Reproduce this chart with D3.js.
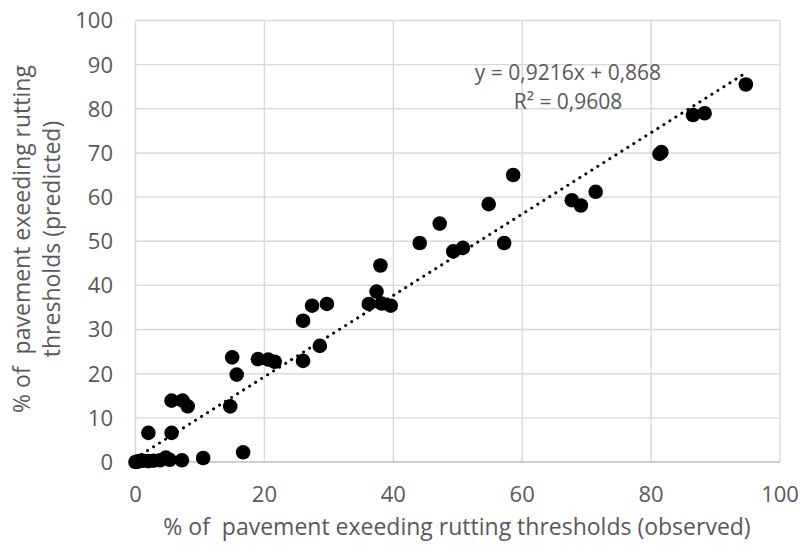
<!DOCTYPE html>
<html>
<head>
<meta charset="utf-8">
<script src="https://cdn.jsdelivr.net/npm/d3@7"></script>
<style>
  body { margin: 0; background: #fff; }
  text { font-family: 'Open Sans', 'Noto Sans', sans-serif; fill: #595959; white-space: pre; }
</style>
</head>
<body>
<div id="chart"></div>
<script>
// DATA
let observed = [94.7, 86.5, 88.3, 81.3, 81.6, 71.4, 67.7, 69.1, 58.6, 54.8,
  47.2, 44.1, 57.2, 49.3, 50.8, 38.0, 37.4, 36.2, 38.2, 39.6,
  29.7, 27.4, 26.0, 28.6, 26.0, 19.0, 20.6, 21.6, 15.0, 15.7,
  5.6, 7.3, 8.1, 14.7, 2.0, 5.6, 16.7, 10.5, 7.2, 5.3,
  4.7, 3.8, 2.8, 2.0, 1.2, 0.6, 0.3, 0.0]
let predicted = [85.5, 78.6, 79.0, 69.8, 70.2, 61.2, 59.3, 58.1, 65.0, 58.4,
  54.0, 49.6, 49.6, 47.7, 48.5, 44.5, 38.6, 35.8, 35.9, 35.4,
  35.8, 35.4, 32.0, 26.3, 22.9, 23.3, 23.2, 22.7, 23.7, 19.8,
  13.9, 13.9, 12.6, 12.6, 6.6, 6.6, 2.2, 0.9, 0.4, 0.5,
  1.0, 0.4, 0.3, 0.2, 0.3, 0.2, 0.1, 0.0]
let xTicks = [0, 20, 40, 60, 80, 100]
let yTicks = [0, 10, 20, 30, 40, 50, 60, 70, 80, 90, 100]
let trendSlope = 0.9216, trendIntercept = 0.868
let equationLines = ['y = 0,9216x + 0,868', 'R² = 0,9608']
let xTitle = '% of  pavement exeeding rutting thresholds (observed)'
let yTitleLines = ['% of  pavement exeeding rutting', 'thresholds (predicted)']

// CHART SETUP
let width = 800, height = 545

let svg = d3.select('#chart')
  .append('svg')
  .attr('width', width)
  .attr('height', height)

let x = d3.scaleLinear().domain([0, 100]).range([135.5, 780])
let y = d3.scaleLinear().domain([0, 100]).range([462, 20.5])

let points = observed.map((d, i) => ({ x: d, y: predicted[i] }))

// gridlines
svg.append('g')
  .selectAll('line')
  .data(yTicks.filter(d => d > 0))
  .enter().append('line')
    .attr('x1', x(0)).attr('x2', x(100))
    .attr('y1', d => y(d)).attr('y2', d => y(d))
    .style('stroke', '#d9d9d9')
    .style('stroke-width', 1.4)

svg.append('g')
  .selectAll('line')
  .data(xTicks)
  .enter().append('line')
    .attr('x1', d => x(d)).attr('x2', d => x(d))
    .attr('y1', y(0)).attr('y2', y(100))
    .style('stroke', '#d9d9d9')
    .style('stroke-width', 1.4)

// bottom axis line
svg.append('line')
  .attr('x1', x(0)).attr('x2', x(100))
  .attr('y1', y(0)).attr('y2', y(0))
  .style('stroke', '#bfbfbf')
  .style('stroke-width', 1.5)

// tick labels
svg.append('g')
  .selectAll('text')
  .data(xTicks)
  .enter().append('text')
    .attr('x', d => x(d))
    .attr('y', 502)
    .style('text-anchor', 'middle')
    .style('font-size', '22px')
    .text(d => d)

svg.append('g')
  .selectAll('text')
  .data(yTicks)
  .enter().append('text')
    .attr('x', 113)
    .attr('y', d => y(d))
    .attr('dy', '0.36em')
    .style('text-anchor', 'end')
    .style('font-size', '22px')
    .text(d => d)

// axis titles
svg.append('text')
  .attr('x', 457)
  .attr('y', 535)
  .style('text-anchor', 'middle')
  .style('font-size', '23px')
  .text(xTitle)

svg.append('g')
  .attr('transform', 'rotate(-90)')
  .selectAll('text')
  .data(yTitleLines)
  .enter().append('text')
    .attr('x', -239)
    .attr('y', (d, i) => 30 + i * 30)
    .style('text-anchor', 'middle')
    .style('font-size', '23px')
    .text(d => d)

// points
svg.append('g')
  .selectAll('circle')
  .data(points)
  .enter().append('circle')
    .attr('cx', d => x(d.x))
    .attr('cy', d => y(d.y))
    .attr('r', 7.3)
    .style('fill', '#000')

// trendline (dotted), over the observed range
let xExt = d3.extent(observed)
svg.append('line')
  .attr('x1', x(xExt[0])).attr('y1', y(trendSlope * xExt[0] + trendIntercept))
  .attr('x2', x(xExt[1])).attr('y2', y(trendSlope * xExt[1] + trendIntercept))
  .style('stroke', '#000')
  .style('stroke-width', 3)
  .style('stroke-linecap', 'round')
  .style('stroke-dasharray', '0.1 7')

// equation label
svg.append('g')
  .selectAll('text')
  .data(equationLines)
  .enter().append('text')
    .attr('x', 568)
    .attr('y', (d, i) => 80 + i * 29)
    .style('text-anchor', 'middle')
    .style('font-size', '21px')
    .text(d => d)
</script>
</body>
</html>
